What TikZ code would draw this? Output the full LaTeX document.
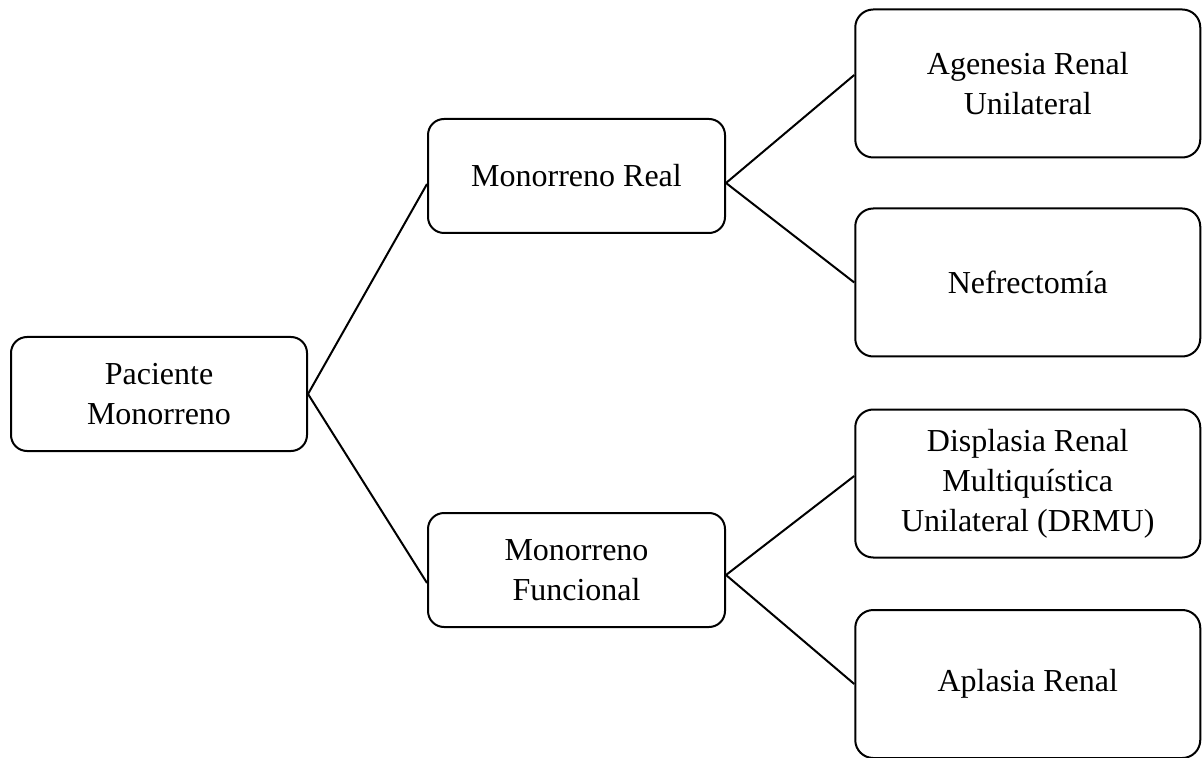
\documentclass[tikz,border=0pt]{standalone}
\usepackage{fontspec}
\setmainfont{Liberation Serif}
\usepackage{xcolor}
\usetikzlibrary{positioning}
\tikzset{
    % Text size for all nodes
    every node/.style={font=\fontsize{16}{20}\selectfont},
    % Root box style
    root/.style={
        rectangle,
        rounded corners=8pt,
        draw=black,
        fill=white,
        line width=1pt,
        minimum width=148pt,
        minimum height=57pt,
        align=center
    },
    % Category box style
    category/.style={
        rectangle,
        rounded corners=8pt,
        draw=black,
        fill=white,
        line width=1pt,
        minimum width=148.5pt,
        minimum height=57pt,
        align=center
    },
    % Cause box style
    cause/.style={
        rectangle,
        rounded corners=9pt,
        draw=black,
        fill=white,
        line width=1pt,
        minimum width=172.5pt,
        minimum height=74pt,
        align=center
    },
    % Connector style
    link/.style={
        line width=1pt,
        color=black
    }
}

\begin{document}
\begin{tikzpicture}[x=0.5pt, y=-0.5pt]
        \useasboundingbox (0,0) rectangle (1202,758);

        % Root
        \node (paciente) [root] at (159,394) {Paciente\\Monorreno};

        % Categories
        \node (real) [category] at (576.5,176) {Monorreno Real};
        \node (funcional) [category] at (576.5,570) {Monorreno\\Funcional};

        % Causes
        \node (agenesia) [cause] at (1027.75,83.5) {Agenesia Renal\\Unilateral};
        \node (nefrectomia) [cause] at (1027.75,282.5) {Nefrectomía};
        \node (displasia) [cause] at (1027.75,483.5) {Displasia Renal\\Multiquística\\Unilateral (DRMU)};
        \node (aplasia) [cause] at (1027.75,684) {Aplasia Renal};

        \draw [link] (paciente.east) -- ([yshift=-4pt]real.west);
        \draw [link] (paciente.east) -- ([yshift=-6.5pt]funcional.west);

        \draw [link] ([yshift=-3.5pt]real.east) -- ([yshift=4.25pt]agenesia.west);
        \draw [link] ([yshift=-3.5pt]real.east) -- (nefrectomia.west);

        \draw [link] ([yshift=-2.5pt]funcional.east) -- ([yshift=3.75pt]displasia.west);
        \draw [link] ([yshift=-2.5pt]funcional.east) -- (aplasia.west);
    \end{tikzpicture}
\end{document}
